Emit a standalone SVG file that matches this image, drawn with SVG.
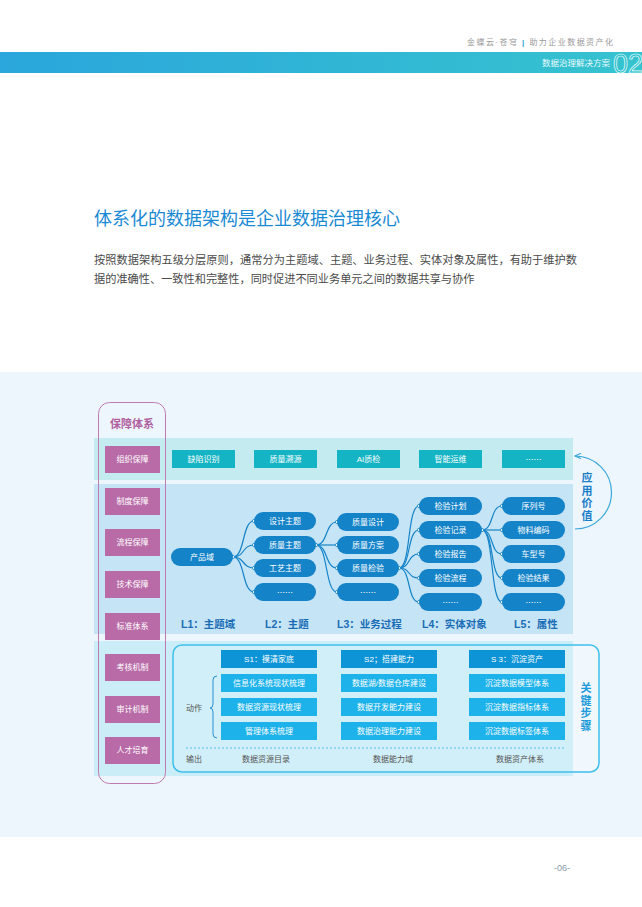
<svg xmlns="http://www.w3.org/2000/svg" width="642" height="907" viewBox="0 0 642 907">
<defs>
<linearGradient id="bar" x1="0" y1="0" x2="1" y2="0">
<stop offset="0" stop-color="#2aa6dc"/>
<stop offset="1" stop-color="#36c3cf"/>
</linearGradient>
<marker id="arr" viewBox="0 0 10 10" refX="9" refY="5" markerWidth="7" markerHeight="7" orient="auto-start-reverse" markerUnits="userSpaceOnUse">
<path d="M0 1 L9 5 L0 9" fill="none" stroke="#3aa8dc" stroke-width="1.6"/>
</marker>
</defs>
<style>
text{font-family:"Liberation Sans","Noto Sans CJK SC",sans-serif}
.pk rect{fill:#b96ba8}
.pk text,.tl text,.pl text,.sh text,.sb text{fill:#fff;font-size:8px;text-anchor:middle;dominant-baseline:central}
.el{font-family:"Noto Sans CJK SC",sans-serif;font-size:7px}
.tl rect{fill:#14b4c4}
.pl rect{fill:#1483c8}
.sh rect{fill:#0c94d6}
.sb rect{fill:#1eb2ea}
.lv{fill:#1a6db5;font-size:10.5px;font-weight:bold}
.con path{fill:none;stroke:#1483c8;stroke-width:1.2}
.con circle{fill:#fff;stroke:#1483c8;stroke-width:0.8}
.gr{fill:#555;font-size:8px}
.vt{font-size:11px;font-weight:bold;text-anchor:middle;dominant-baseline:central}
</style>
<rect width="642" height="907" fill="#ffffff"/>
<!-- header -->
<text x="613" y="45" text-anchor="end" font-size="8" fill="#9a9a9a" textLength="146" lengthAdjust="spacing">金蝶云·苍穹 <tspan fill="#2aa6dc" font-weight="bold">|</tspan> 助力企业数据资产化</text>
<rect x="0" y="52" width="642" height="21" fill="url(#bar)"/>
<text x="576" y="66" text-anchor="middle" font-size="8.5" fill="#e8fbfc">数据治理解决方案</text>
<text x="628" y="73" text-anchor="middle" font-size="27" fill="none" stroke="#e8fbfc" stroke-width="0.7">02</text>
<!-- title -->
<text x="94" y="225" font-size="18" fill="#1a8ad4">体系化的数据架构是企业数据治理核心</text>
<text x="94" y="264" font-size="11.2" fill="#4a4a4a" textLength="483" lengthAdjust="spacing">按照数据架构五级分层原则，通常分为主题域、主题、业务过程、实体对象及属性，有助于维护数</text>
<text x="94" y="283" font-size="11.2" fill="#4a4a4a">据的准确性、一致性和完整性，同时促进不同业务单元之间的数据共享与协作</text>
<!-- diagram background -->
<rect x="0" y="372" width="642" height="465" fill="#eef6fd"/>
<rect x="94" y="438" width="479" height="42" fill="#c3ebf0"/>
<rect x="94" y="484" width="479" height="150" fill="#c5e4f5"/>
<rect x="94" y="641" width="479" height="135" fill="#cbedf8"/>
<!-- left guarantee system -->
<g id="guarantee">
<rect x="98.5" y="402.5" width="67" height="381" rx="11" fill="none" stroke="#c07ab2" stroke-width="1"/>
<text x="132" y="428" text-anchor="middle" font-size="11" font-weight="bold" fill="#b0609f">保障体系</text>
</g>
<g class="pk">
<g id="g1"><rect x="105" y="446" width="55" height="27"/><text x="132.5" y="459.5">组织保障</text></g>
<g id="g2"><rect x="105" y="488" width="55" height="27"/><text x="132.5" y="501.5">制度保障</text></g>
<g id="g3"><rect x="105" y="529" width="55" height="27"/><text x="132.5" y="542.5">流程保障</text></g>
<g id="g4"><rect x="105" y="571" width="55" height="27"/><text x="132.5" y="584.5">技术保障</text></g>
<g id="g5"><rect x="105" y="613" width="55" height="27"/><text x="132.5" y="626.5">标准体系</text></g>
<g id="g6"><rect x="105" y="654" width="55" height="27"/><text x="132.5" y="667.5">考核机制</text></g>
<g id="g7"><rect x="105" y="696" width="55" height="27"/><text x="132.5" y="709.5">审计机制</text></g>
<g id="g8"><rect x="105" y="737" width="55" height="27"/><text x="132.5" y="750.5">人才培育</text></g>
</g>
<!-- application row -->
<g class="tl">
<g id="a1"><rect x="172" y="450" width="63" height="18"/><text x="203.5" y="459">缺陷识别</text></g>
<g id="a2"><rect x="254" y="450" width="63" height="18"/><text x="285.5" y="459">质量溯源</text></g>
<g id="a3"><rect x="337" y="450" width="63" height="18"/><text x="368.5" y="459">AI质检</text></g>
<g id="a4"><rect x="419" y="450" width="63" height="18"/><text x="450.5" y="459">智能运维</text></g>
<g id="a5"><rect x="502" y="450" width="63" height="18"/><text class="el" x="533.5" y="459">……</text></g>
</g>
<g id="app-value">
<path d="M575 456 A36.5 36.5 0 0 1 575 529" fill="none" stroke="#3aa8dc" stroke-width="1.2" marker-start="url(#arr)"/>
<text class="vt" fill="#1a7ec8" x="587" y="478">应</text>
<text class="vt" fill="#1a7ec8" x="587" y="490.5">用</text>
<text class="vt" fill="#1a7ec8" x="587" y="503">价</text>
<text class="vt" fill="#1a7ec8" x="587" y="515.5">值</text>
</g>
<!-- connectors -->
<g class="con" id="connectors">
<path d="M233 557 C245 557 242 521 254 521"/>
<path d="M233 557 C245 557 242 545 254 545"/>
<path d="M233 557 C245 557 242 568 254 568"/>
<path d="M233 557 C245 557 242 592 254 592"/>
<path d="M316 545 C328 545 325 522 337 522"/>
<path d="M316 545 C328 545 325 545 337 545"/>
<path d="M316 545 C328 545 325 568 337 568"/>
<path d="M316 545 C328 545 325 592 337 592"/>
<path d="M399 568 C411 568 407 506 419 506"/>
<path d="M399 568 C411 568 407 530 419 530"/>
<path d="M399 568 C411 568 407 554 419 554"/>
<path d="M399 568 C411 568 407 578 419 578"/>
<path d="M399 568 C411 568 407 602 419 602"/>
<path d="M482 530 C494 530 490 506 502 506"/>
<path d="M482 530 C494 530 490 530 502 530"/>
<path d="M482 530 C494 530 490 554 502 554"/>
<path d="M482 530 C494 530 490 578 502 578"/>
<path d="M482 530 C494 530 490 602 502 602"/>
<circle cx="233" cy="557" r="1.6"/><circle cx="316" cy="545" r="1.6"/><circle cx="399" cy="568" r="1.6"/><circle cx="482" cy="530" r="1.6"/>
<circle cx="254" cy="521" r="1.6"/><circle cx="254" cy="545" r="1.6"/><circle cx="254" cy="568" r="1.6"/><circle cx="254" cy="592" r="1.6"/>
<circle cx="337" cy="522" r="1.6"/><circle cx="337" cy="545" r="1.6"/><circle cx="337" cy="568" r="1.6"/><circle cx="337" cy="592" r="1.6"/>
<circle cx="419" cy="506" r="1.6"/><circle cx="419" cy="530" r="1.6"/><circle cx="419" cy="554" r="1.6"/><circle cx="419" cy="578" r="1.6"/><circle cx="419" cy="602" r="1.6"/>
<circle cx="502" cy="506" r="1.6"/><circle cx="502" cy="530" r="1.6"/><circle cx="502" cy="554" r="1.6"/><circle cx="502" cy="578" r="1.6"/><circle cx="502" cy="602" r="1.6"/>
</g>
<!-- tree nodes -->
<g class="pl">
<g id="l1"><rect x="171" y="548" width="62" height="18" rx="9"/><text x="202" y="557">产品域</text></g>
<g id="l2a"><rect x="254" y="512" width="62" height="18" rx="9"/><text x="285" y="521">设计主题</text></g>
<g id="l2b"><rect x="254" y="536" width="62" height="18" rx="9"/><text x="285" y="545">质量主题</text></g>
<g id="l2c"><rect x="254" y="559" width="62" height="18" rx="9"/><text x="285" y="568">工艺主题</text></g>
<g id="l2d"><rect x="254" y="583" width="62" height="18" rx="9"/><text class="el" x="285" y="592">……</text></g>
<g id="l3a"><rect x="337" y="513" width="62" height="18" rx="9"/><text x="368" y="522">质量设计</text></g>
<g id="l3b"><rect x="337" y="536" width="62" height="18" rx="9"/><text x="368" y="545">质量方案</text></g>
<g id="l3c"><rect x="337" y="559" width="62" height="18" rx="9"/><text x="368" y="568">质量检验</text></g>
<g id="l3d"><rect x="337" y="583" width="62" height="18" rx="9"/><text class="el" x="368" y="592">……</text></g>
<g id="l4a"><rect x="419" y="497" width="63" height="18" rx="9"/><text x="450.5" y="506">检验计划</text></g>
<g id="l4b"><rect x="419" y="521" width="63" height="18" rx="9"/><text x="450.5" y="530">检验记录</text></g>
<g id="l4c"><rect x="419" y="545" width="63" height="18" rx="9"/><text x="450.5" y="554">检验报告</text></g>
<g id="l4d"><rect x="419" y="569" width="63" height="18" rx="9"/><text x="450.5" y="578">检验流程</text></g>
<g id="l4e"><rect x="419" y="593" width="63" height="18" rx="9"/><text class="el" x="450.5" y="602">……</text></g>
<g id="l5a"><rect x="502" y="497" width="63" height="18" rx="9"/><text x="533.5" y="506">序列号</text></g>
<g id="l5b"><rect x="502" y="521" width="63" height="18" rx="9"/><text x="533.5" y="530">物料编码</text></g>
<g id="l5c"><rect x="502" y="545" width="63" height="18" rx="9"/><text x="533.5" y="554">车型号</text></g>
<g id="l5d"><rect x="502" y="569" width="63" height="18" rx="9"/><text x="533.5" y="578">检验结果</text></g>
<g id="l5e"><rect x="502" y="593" width="63" height="18" rx="9"/><text class="el" x="533.5" y="602">……</text></g>
</g>
<g id="levels">
<text class="lv" x="181" y="628">L1：主题域</text>
<text class="lv" x="265" y="628">L2：主题</text>
<text class="lv" x="337" y="628">L3：业务过程</text>
<text class="lv" x="422" y="628">L4：实体对象</text>
<text class="lv" x="514" y="628">L5：属性</text>
</g>
<!-- key steps -->
<g id="key-steps">
<rect x="173" y="645" width="426" height="127" rx="9" fill="#ffffff" fill-opacity="0.12" stroke="#3ec0ea" stroke-width="1.5"/>
<text class="vt" fill="#1a9ad8" x="586" y="688">关</text>
<text class="vt" fill="#1a9ad8" x="586" y="700.5">键</text>
<text class="vt" fill="#1a9ad8" x="586" y="713">步</text>
<text class="vt" fill="#1a9ad8" x="586" y="725.5">骤</text>
<text class="gr" x="186" y="711">动作</text>
<path d="M217 676 Q213 676 213 680 L213 704 Q213 708 210 708 Q213 708 213 712 L213 734 Q213 738 217 738" fill="none" stroke="#2a8fd0" stroke-width="1"/>
<line x1="186" y1="748" x2="566" y2="748" stroke="#3fb3e0" stroke-width="0.8" stroke-dasharray="2 2"/>
<text class="gr" x="186" y="762">输出</text>
<text class="gr" x="266" y="762" text-anchor="middle">数据资源目录</text>
<text class="gr" x="393" y="762" text-anchor="middle">数据能力域</text>
<text class="gr" x="520" y="762" text-anchor="middle">数据资产体系</text>
</g>
<g class="sh">
<g id="s1"><rect x="221" y="650" width="96" height="18"/><text x="269" y="659">S1：摸清家底</text></g>
<g id="s2"><rect x="341" y="650" width="96" height="18"/><text x="389" y="659">S2；搭建能力</text></g>
<g id="s3"><rect x="469" y="650" width="96" height="18"/><text x="517" y="659">S 3：沉淀资产</text></g>
</g>
<g class="sb">
<g id="s1a"><rect x="221" y="674" width="96" height="18"/><text x="269" y="683">信息化系统现状梳理</text></g>
<g id="s1b"><rect x="221" y="698" width="96" height="18"/><text x="269" y="707">数据资源现状梳理</text></g>
<g id="s1c"><rect x="221" y="722" width="96" height="18"/><text x="269" y="731">管理体系梳理</text></g>
<g id="s2a"><rect x="341" y="674" width="96" height="18"/><text x="389" y="683">数据湖/数据仓库建设</text></g>
<g id="s2b"><rect x="341" y="698" width="96" height="18"/><text x="389" y="707">数据开发能力建设</text></g>
<g id="s2c"><rect x="341" y="722" width="96" height="18"/><text x="389" y="731">数据治理能力建设</text></g>
<g id="s3a"><rect x="469" y="674" width="96" height="18"/><text x="517" y="683">沉淀数据模型体系</text></g>
<g id="s3b"><rect x="469" y="698" width="96" height="18"/><text x="517" y="707">沉淀数据指标体系</text></g>
<g id="s3c"><rect x="469" y="722" width="96" height="18"/><text x="517" y="731">沉淀数据标签体系</text></g>
</g>
<!-- page number -->
<text x="562" y="871" text-anchor="middle" font-size="9" fill="#8a9aa8">-06-</text>
</svg>
